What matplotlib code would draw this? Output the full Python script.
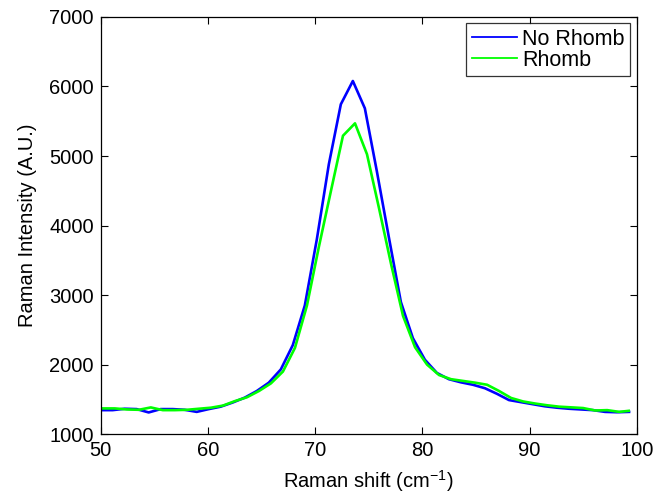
import matplotlib
matplotlib.use("Agg")
import matplotlib.pyplot as plt

plt.rcParams.update({
    "font.family": ["Liberation Sans", "DejaVu Sans"],
    "font.size": 14.5,
    "mathtext.fontset": "custom",
    "mathtext.rm": "Liberation Sans",
    "xtick.direction": "in",
    "ytick.direction": "in",
    "xtick.top": True,
    "ytick.right": True,
    "xtick.major.size": 5,
    "ytick.major.size": 5,
})

# Raman shift (cm^-1) and intensity for the two samples
shift_no_rhomb = [50.0, 51.12, 52.24, 53.36, 54.48, 55.6, 56.72, 57.84, 58.96, 60.08,
                  61.2, 62.32, 63.44, 64.56, 65.68, 66.8, 67.92, 69.04, 70.16, 71.28,
                  72.4, 73.52, 74.64, 75.76, 76.88, 78.0, 79.12, 80.24, 81.36, 82.48,
                  83.6, 84.72, 85.84, 86.96, 88.08, 89.2, 90.32, 91.44, 92.56, 93.68,
                  94.8, 95.92, 97.04, 98.16, 99.28]
int_no_rhomb = [1345, 1345, 1365, 1360, 1312, 1360, 1360, 1350, 1320, 1360,
                1395, 1455, 1525, 1620, 1740, 1930, 2280, 2850, 3800, 4880,
                5744, 6079, 5686, 4780, 3830, 2900, 2380, 2070, 1880, 1790,
                1745, 1710, 1660, 1580, 1490, 1460, 1430, 1400, 1380, 1365,
                1355, 1345, 1320, 1315, 1320]

shift_rhomb = [50.0, 51.32, 52.44, 53.56, 54.68, 55.8, 56.92, 58.04, 59.16, 60.28,
               61.4, 62.52, 63.64, 64.76, 65.88, 67.0, 68.12, 69.24, 70.36, 71.48,
               72.6, 73.72, 74.84, 75.96, 77.08, 78.2, 79.32, 80.44, 81.56, 82.68,
               83.8, 84.92, 86.04, 87.16, 88.28, 89.4, 90.52, 91.64, 92.76, 93.88,
               95.0, 96.12, 97.24, 98.36, 99.25]
int_rhomb = [1370, 1370, 1355, 1350, 1384, 1345, 1345, 1350, 1365, 1380,
             1410, 1475, 1530, 1620, 1730, 1900, 2240, 2850, 3700, 4500,
             5292, 5470, 5025, 4250, 3450, 2700, 2250, 2000, 1850, 1790,
             1765, 1740, 1710, 1620, 1520, 1470, 1440, 1415, 1395, 1385,
             1375, 1340, 1345, 1320, 1335]

fig = plt.figure(figsize=(6.71, 4.99), dpi=100)
ax = fig.add_axes([0.150, 0.130, 0.799, 0.836])

ax.plot(shift_no_rhomb, int_no_rhomb, color="#0000ff", lw=1.9, label="No Rhomb")
ax.plot(shift_rhomb, int_rhomb, color="#00ff00", lw=1.9, label="Rhomb")

ax.set_xlim(50, 100)
ax.set_ylim(1000, 7000)
ax.set_xticks(range(50, 101, 10))
ax.set_yticks(range(1000, 7001, 1000))
ax.tick_params(pad=5)
ax.set_xlabel("Raman shift (cm$^{-1}$)", labelpad=6)
ax.set_ylabel("Raman Intensity (A.U.)", labelpad=9)
for s in ax.spines.values():
    s.set_linewidth(0.9)

leg = ax.legend(loc="upper right", fancybox=False, edgecolor="black",
                fontsize=15.5, borderaxespad=0.3, handlelength=2.1,
                handletextpad=0.25, borderpad=0.25, labelspacing=0.0)
leg.get_frame().set_linewidth(0.9)
for h in leg.get_lines():
    h.set_linewidth(1.3)

fig.savefig("out.png", dpi=100)
